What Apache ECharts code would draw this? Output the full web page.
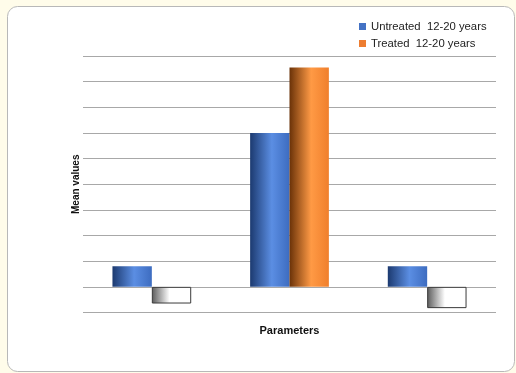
<!DOCTYPE html>
<html>
<head>
<meta charset="utf-8">
<script src="https://cdn.jsdelivr.net/npm/echarts@6/dist/echarts.min.js"></script>
<style>
  html, body { margin: 0; padding: 0; background: #fffcea; }
  #chart { width: 516px; height: 373px; }
</style>
</head>
<body>
<div id="chart"></div>
<script>
// Chart data
const categories = ['A', 'B', 'C'];
const untreated = [0.8, 6.0, 0.8];
const treated = [-0.65, 8.55, -0.83];
const seriesNames = ['Untreated  12-20 years', 'Treated  12-20 years'];

function hGrad(stops) {
  return new echarts.graphic.LinearGradient(0, 0, 1, 0,
    stops.map(s => ({ offset: s[0], color: s[1] })));
}

const blueFill = hGrad([[0, '#1c3a70'], [0.55, '#5b8ee3'], [1, '#3d6cc0']]);
const orangeFill = hGrad([[0, '#6a3208'], [0.55, '#ff9a45'], [1, '#f07f2c']]);
const negFill = hGrad([[0, '#5a5a5a'], [0.45, '#ffffff'], [1, '#ffffff']]);

// Negative values are drawn with a white, inverted fill
function styled(values, fill) {
  return values.map(v => v < 0
    ? { value: v, itemStyle: { color: negFill, borderColor: '#3a3a3a', borderWidth: 1 } }
    : { value: v, itemStyle: { color: fill } });
}

const chart = echarts.init(document.getElementById('chart'));
chart.setOption({
  animation: false,
  backgroundColor: 'transparent',
  graphic: [{
    type: 'rect',
    shape: { x: 7.5, y: 6.5, width: 507, height: 365, r: 10 },
    style: { fill: '#ffffff', stroke: '#b8b8b8', lineWidth: 1 },
    z: -10
  }],
  legend: {
    orient: 'vertical',
    left: 354,
    top: 16,
    itemWidth: 7,
    itemHeight: 7,
    itemGap: 6,
    icon: 'rect',
    textStyle: { fontFamily: 'Liberation Sans', fontSize: 11.3, color: '#222' },
    data: [
      { name: seriesNames[0], itemStyle: { color: '#4472c4' } },
      { name: seriesNames[1], itemStyle: { color: '#ed7d31' } }
    ]
  },
  grid: { left: 83, right: 20, top: 56, bottom: 60.5 },
  xAxis: {
    type: 'category',
    data: categories,
    name: 'Parameters',
    nameLocation: 'middle',
    nameGap: 13,
    nameTextStyle: { fontFamily: 'Liberation Sans', fontWeight: 'bold', fontSize: 11, color: '#111' },
    axisLine: { show: false, onZero: false },
    axisTick: { show: false },
    axisLabel: { show: false }
  },
  yAxis: {
    type: 'value',
    min: -1,
    max: 9,
    interval: 1,
    name: 'Mean values',
    nameLocation: 'middle',
    nameGap: 2,
    nameTextStyle: { fontFamily: 'Liberation Sans', fontWeight: 'bold', fontSize: 10, color: '#111' },
    axisLine: { show: false },
    axisTick: { show: false },
    axisLabel: { show: false },
    splitLine: { lineStyle: { color: '#a8a8a8', width: 1.2 } }
  },
  series: [
    {
      name: seriesNames[0],
      type: 'bar',
      barWidth: '28.6%',
      barGap: '0%',
      data: styled(untreated, blueFill)
    },
    {
      name: seriesNames[1],
      type: 'bar',
      barWidth: '28.6%',
      data: styled(treated, orangeFill)
    }
  ]
});
</script>
</body>
</html>
